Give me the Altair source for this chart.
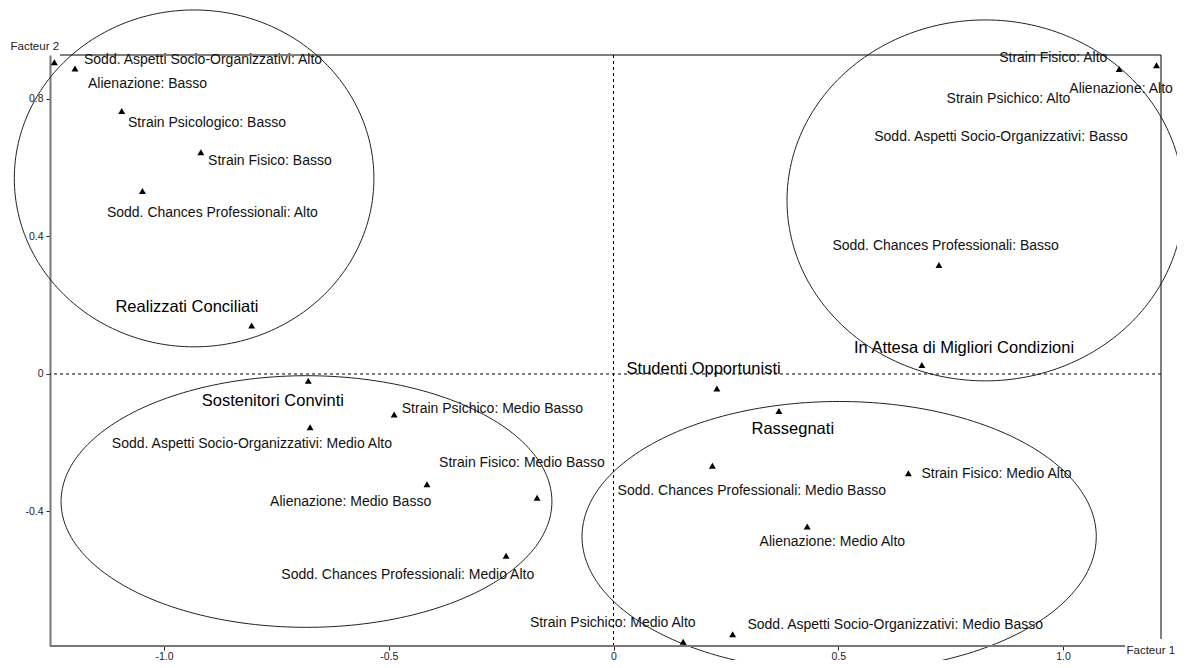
import altair as alt
import pandas as pd
import numpy as np

# ---------------- data ----------------
X_DOMAIN = [-1.2536, 1.218]
Y_DOMAIN = [-0.7913, 0.928]
x_ticks = [-1.0, -0.5, 0.0, 0.5, 1.0]
y_ticks = [-0.4, 0.0, 0.4, 0.8]

# triangles (modalities / groups) : factor 1, factor 2
point_names = [
    "Sodd. Aspetti Socio-Organizzativi: Alto", "Alienazione: Basso",
    "Strain Psicologico: Basso", "Strain Fisico: Basso",
    "Sodd. Chances Professionali: Alto", "Realizzati Conciliati",
    "Strain Fisico: Alto", "Alienazione: Alto",
    "Sodd. Chances Professionali: Basso", "In Attesa di Migliori Condizioni",
    "Sostenitori Convinti", "Strain Psichico: Medio Basso",
    "Sodd. Aspetti Socio-Organizzativi: Medio Alto", "Strain Fisico: Medio Basso",
    "Alienazione: Medio Basso", "Sodd. Chances Professionali: Medio Alto",
    "Studenti Opportunisti", "Rassegnati",
    "Sodd. Chances Professionali: Medio Basso", "Strain Fisico: Medio Alto",
    "Alienazione: Medio Alto", "Strain Psichico: Medio Alto",
    "Sodd. Aspetti Socio-Organizzativi: Medio Basso",
]
point_f1 = [-1.244, -1.198, -1.094, -0.918, -1.048, -0.805,
            1.125, 1.208, 0.724, 0.686,
            -0.679, -0.488, -0.675, -0.170, -0.415, -0.239,
            0.230, 0.368, 0.220, 0.656, 0.431, 0.155, 0.265]
point_f2 = [0.907, 0.889, 0.765, 0.645, 0.532, 0.141,
            0.887, 0.898, 0.317, 0.026,
            -0.020, -0.118, -0.155, -0.360, -0.321, -0.529,
            -0.042, -0.108, -0.267, -0.289, -0.444, -0.779, -0.757]

# modality labels (left edge, vertical centre) in factor units
mod_labels = [
    "Sodd. Aspetti Socio-Organizzativi: Alto", "Alienazione: Basso",
    "Strain Psicologico: Basso", "Strain Fisico: Basso",
    "Sodd. Chances Professionali: Alto",
    "Strain Fisico: Alto", "Alienazione: Alto", "Strain Psichico: Alto",
    "Sodd. Aspetti Socio-Organizzativi: Basso",
    "Sodd. Chances Professionali: Basso",
    "Strain Psichico: Medio Basso", "Sodd. Aspetti Socio-Organizzativi: Medio Alto",
    "Strain Fisico: Medio Basso", "Alienazione: Medio Basso",
    "Sodd. Chances Professionali: Medio Alto",
    "Sodd. Chances Professionali: Medio Basso", "Strain Fisico: Medio Alto",
    "Alienazione: Medio Alto", "Strain Psichico: Medio Alto",
    "Sodd. Aspetti Socio-Organizzativi: Medio Basso",
]
mod_lx = [-1.178, -1.169, -1.080, -0.902, -1.127,
          0.858, 1.014, 0.741, 0.580, 0.487,
          -0.471, -1.116, -0.388, -0.764, -0.739,
          0.009, 0.685, 0.325, -0.186, 0.298]
mod_ly = [0.914, 0.843, 0.729, 0.620, 0.469,
          0.918, 0.828, 0.800, 0.690, 0.372,
          -0.103, -0.204, -0.260, -0.373, -0.586,
          -0.340, -0.292, -0.489, -0.724, -0.730]

# group (typology) labels
grp_labels = ["Realizzati Conciliati", "Sostenitori Convinti",
              "Studenti Opportunisti", "In Attesa di Migliori Condizioni",
              "Rassegnati"]
grp_lx = [-1.108, -0.916, 0.029, 0.535, 0.307]
grp_ly = [0.196, -0.078, 0.014, 0.075, -0.160]

# ellipses around the four clusters: centre and half-axes in factor units
ell_names = ["TL", "TR", "BL", "BR"]
ell_cx = [-0.933, 0.827, -0.683, 0.502]
ell_cy = [0.569, 0.505, -0.371, -0.473]
ell_rx = [0.400, 0.441, 0.546, 0.572]
ell_ry = [0.490, 0.525, 0.366, 0.393]

# ---------------- build ----------------
W, H = 1111, 591
FONT = "Liberation Sans"

xs = alt.Scale(domain=X_DOMAIN, nice=False, zero=False)
ys = alt.Scale(domain=Y_DOMAIN, nice=False, zero=False)

label_expr = ("datum.value == 0 ? '0' : (datum.value < 0 ? '-' : '') + "
              "format(abs(datum.value), '.1f')")

pts = pd.DataFrame({"name": point_names, "x": point_f1, "y": point_f2})
mods = pd.DataFrame({"name": mod_labels, "x": mod_lx, "y": mod_ly})
grps = pd.DataFrame({"name": grp_labels, "x": grp_lx, "y": grp_ly})

t = np.linspace(0, 2 * np.pi, 241)
rows = []
for n, cx, cy, rx, ry in zip(ell_names, ell_cx, ell_cy, ell_rx, ell_ry):
    for i, tt in enumerate(t):
        rows.append({"e": n, "i": i, "x": cx + rx * np.cos(tt), "y": cy + ry * np.sin(tt)})
ell = pd.DataFrame(rows)
zero_df = pd.DataFrame({"x": [0.0], "y": [0.0]})
one = pd.DataFrame({"v": [0]})

x_axis = alt.Axis(values=x_ticks, labelExpr=label_expr, title="Facteur 1",
                  titleX=1076, titleY=4, titleAlign="left", titleBaseline="middle",
                  titleAngle=0, domain=False, grid=False, tickSize=4, labelPadding=1)
y_axis = alt.Axis(values=y_ticks, labelExpr=label_expr, title="Facteur 2",
                  titleX=-40, titleY=-9, titleAlign="left", titleBaseline="middle",
                  titleAngle=0, domain=True, grid=False, tickSize=4, labelPadding=3)

X = alt.X("x:Q", scale=xs, axis=x_axis)
Y = alt.Y("y:Q", scale=ys, axis=y_axis)

ellipses = alt.Chart(ell).mark_line(color="#222", strokeWidth=1).encode(
    x=X, y=Y, detail="e:N", order="i:Q",
)

hzero = alt.Chart(zero_df).mark_rule(color="#000", strokeWidth=1, strokeDash=[3, 3]).encode(y=Y)
vzero = alt.Chart(zero_df).mark_rule(color="#000", strokeWidth=1, strokeDash=[3, 3]).encode(x=X)

top_frame = alt.Chart(one).mark_rule(color="#000", strokeWidth=1).encode(
    x=alt.value(10), x2=alt.value(W), y=alt.value(0))
right_frame = alt.Chart(one).mark_rule(color="#000", strokeWidth=1).encode(
    x=alt.value(W), y=alt.value(0), y2=alt.value(H - 7))
bottom_axis = alt.Chart(one).mark_rule(color="#777", strokeWidth=2).encode(
    x=alt.value(0), x2=alt.value(1075), y=alt.value(H))

tri = alt.Chart(pts).mark_point(shape="triangle-up", filled=True, color="#000",
                                opacity=1, size=48).encode(x=X, y=Y)

mod_text = alt.Chart(mods).mark_text(align="left", baseline="middle", font=FONT,
                                     fontSize=14, color="#111").encode(
    x=X, y=Y, text="name:N")
grp_text = alt.Chart(grps).mark_text(align="left", baseline="middle", font=FONT,
                                     fontSize=16.5, color="#000").encode(
    x=X, y=Y, text="name:N")

chart = alt.layer(
    ellipses, hzero, vzero, top_frame, right_frame, bottom_axis, tri, mod_text, grp_text
).properties(
    width=W, height=H,
    padding={"left": 42, "top": 47, "right": 16, "bottom": 14},
    autosize=alt.AutoSizeParams(type="none"),
).configure_view(
    stroke="transparent"
).configure_axis(
    labelFont=FONT, labelFontSize=10.5, labelColor="#222",
    titleFont=FONT, titleFontSize=11.5, titleFontWeight="normal", titleColor="#222",
    tickColor="#222", tickWidth=1, domainColor="#777", domainWidth=2,
)

chart.save("out.html", embed_options={"renderer": "svg", "actions": False})
